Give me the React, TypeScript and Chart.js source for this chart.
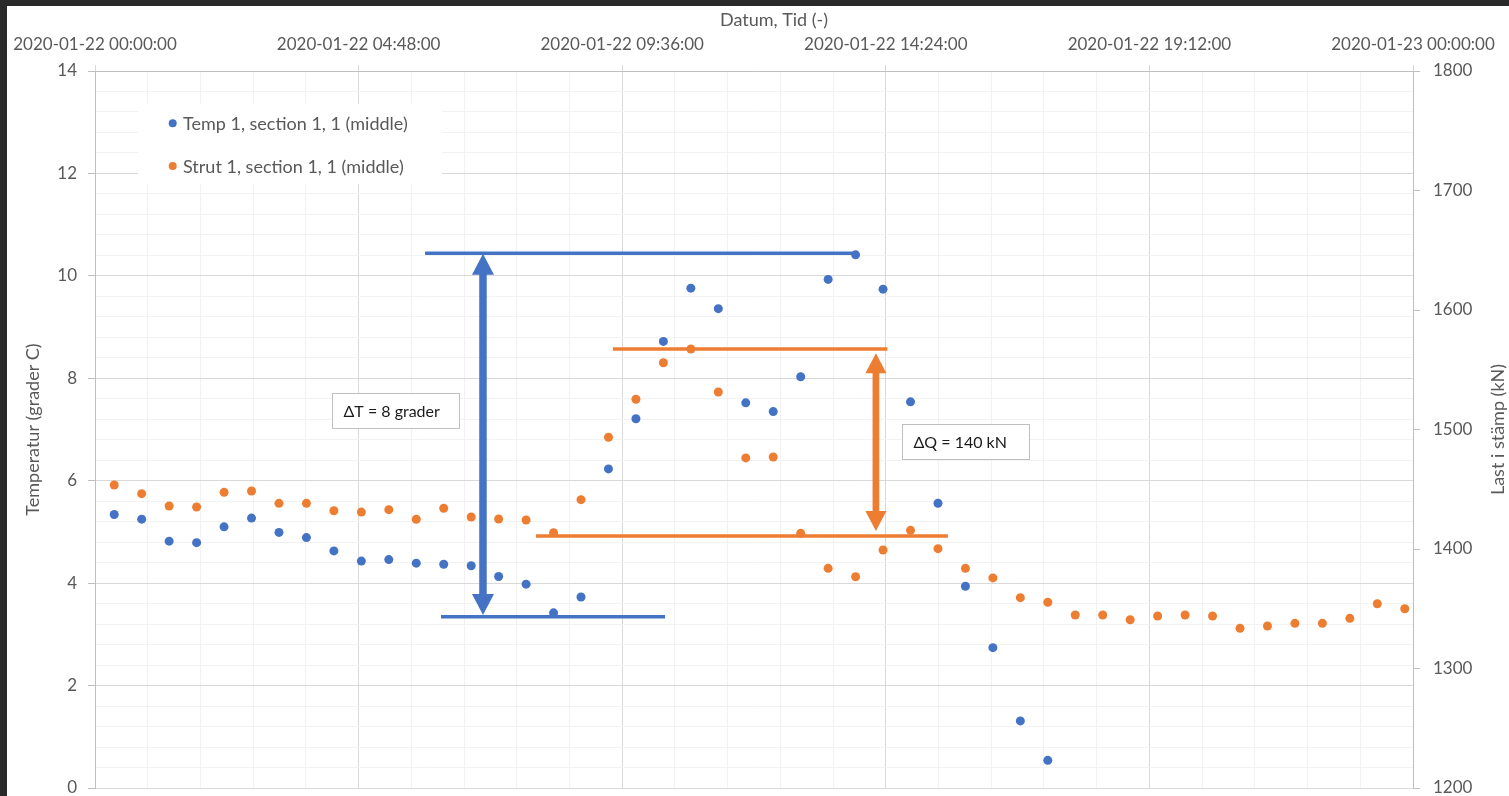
import React, { useEffect, useRef } from "react";
import { Chart, registerables } from "chart.js";

Chart.register(...registerables);

// ---- data ----
const times = [
  "00:21", "00:51", "01:21", "01:51", "02:21", "02:51", "03:21", "03:51",
  "04:21", "04:51", "05:21", "05:51", "06:21", "06:51", "07:21", "07:51",
  "08:21", "08:51", "09:21", "09:51", "10:21", "10:51", "11:21", "11:51",
  "12:21", "12:51", "13:21", "13:51", "14:21", "14:51", "15:21", "15:51",
  "16:21", "16:51", "17:21", "17:51", "18:21", "18:51", "19:21", "19:51",
  "20:21", "20:51", "21:21", "21:51", "22:21", "22:51", "23:21", "23:51",
];

const tempValues = [
  5.34, 5.25, 4.82, 4.79, 5.1, 5.27, 4.99, 4.89, 4.63, 4.43, 4.46, 4.39,
  4.37, 4.34, 4.13, 3.98, 3.42, 3.73, 6.23, 7.21, 8.72, 9.76, 9.36, 7.52,
  7.35, 8.03, 9.93, 10.41, 9.74, 7.54, 5.56, 3.94, 2.74, 1.31, 0.54,
];

const loadValues = [
  1453.6, 1446.3, 1436.0, 1435.1, 1447.4, 1448.5, 1438.2, 1438.2, 1432.0, 1430.9,
  1432.9, 1424.9, 1434.1, 1426.8, 1425.1, 1424.3, 1413.6, 1441.3, 1493.5, 1525.3,
  1555.9, 1567.4, 1531.4, 1476.2, 1477.0, 1413.1, 1383.8, 1376.8, 1399.2, 1415.6,
  1400.3, 1383.8, 1375.8, 1359.3, 1355.4, 1344.8, 1344.8, 1340.8, 1343.9, 1344.8,
  1343.9, 1333.6, 1335.6, 1337.8, 1337.8, 1342.0, 1354.2, 1350.0,
];

const tempLabel = "Temp 1, section 1, 1 (middle)";
const loadLabel = "Strut 1, section 1, 1 (middle)";
const xTitle = "Datum, Tid (-)";
const yTitle = "Temperatur (grader C)";
const y2Title = "Last i stämp (kN)";
const dateStart = "2020-01-";
const firstDay = 22;

// annotations in data units (hours / °C / kN)
const blueLines = [
  { x1: 6.01, x2: 13.88, v: 10.44 },
  { x1: 6.3, x2: 10.38, v: 3.345 },
];
const blueArrow = { x: 7.065, v1: 10.43, v2: 3.38 };
const orangeLines = [
  { x1: 9.43, x2: 14.43, v: 1567.4 },
  { x1: 8.03, x2: 15.53, v: 1410.9 },
];
const orangeArrow = { x: 14.22, v1: 1563.8, v2: 1415.1 };
const notes = [
  { text: "ΔT = 8 grader", x: 4.315, v: 7.707 },
  { text: "ΔQ = 140 kN", x: 14.7, v: 7.1 },
];

// ---- styling ----
const BLUE = "#4472C4";
const ORANGE = "#ED7D31";
const FONT = "Lato";
const TEXT = "#595959";
const MAJOR = "#d9d9d9";
const MINOR = "#f2f2f2";
const AXIS = "#bfbfbf";

const toHours = (t: string) => {
  const [h, m] = t.split(":").map(Number);
  return h + m / 60;
};

const isMult = (v: number, s: number) => Math.abs(v / s - Math.round(v / s)) < 1e-6;

const pad2 = (n: number) => String(n).padStart(2, "0");

const fmtTime = (v: number) => {
  const totalMin = Math.round(v * 60);
  const day = firstDay + Math.floor(totalMin / 1440);
  const min = totalMin % 1440;
  return `${dateStart}${day} ${pad2(Math.floor(min / 60))}:${pad2(min % 60)}:00`;
};

function drawArrow(ctx: CanvasRenderingContext2D, x: number, yTop: number, yBot: number, color: string, shaftW: number, headW: number, headL: number) {
  ctx.fillStyle = color;
  ctx.fillRect(x - shaftW / 2, yTop + headL - 1, shaftW, yBot - yTop - 2 * headL + 2);
  ctx.beginPath();
  ctx.moveTo(x, yTop);
  ctx.lineTo(x - headW / 2, yTop + headL);
  ctx.lineTo(x + headW / 2, yTop + headL);
  ctx.closePath();
  ctx.fill();
  ctx.beginPath();
  ctx.moveTo(x, yBot);
  ctx.lineTo(x - headW / 2, yBot - headL);
  ctx.lineTo(x + headW / 2, yBot - headL);
  ctx.closePath();
  ctx.fill();
}

const overlay = {
  id: "overlay",
  beforeDatasetsDraw(chart: any) {
    const { ctx, chartArea } = chart;
    // legend box
    const lx = chartArea.left + 43;
    const ly = chartArea.top + 33;
    ctx.save();
    ctx.fillStyle = "#ffffff";
    ctx.fillRect(lx, ly, 304, 80);
    const items = [
      { label: chart.data.datasets[0].label, color: BLUE, dy: 19.3 },
      { label: chart.data.datasets[1].label, color: ORANGE, dy: 62 },
    ];
    ctx.font = `18px ${FONT}`;
    ctx.textBaseline = "middle";
    ctx.textAlign = "left";
    for (const it of items) {
      ctx.fillStyle = it.color;
      ctx.beginPath();
      ctx.arc(lx + 34.7, ly + it.dy, 4, 0, Math.PI * 2);
      ctx.fill();
      ctx.fillStyle = TEXT;
      ctx.fillText(it.label, lx + 45, ly + it.dy + 1);
    }
    ctx.restore();
  },
  afterDatasetsDraw(chart: any) {
    const { ctx } = chart;
    const { x, y, y2 } = chart.scales;
    ctx.save();
    ctx.lineCap = "butt";
    ctx.lineWidth = 3.5;
    ctx.strokeStyle = BLUE;
    for (const l of blueLines) {
      const py = y.getPixelForValue(l.v);
      ctx.beginPath();
      ctx.moveTo(x.getPixelForValue(l.x1), py);
      ctx.lineTo(x.getPixelForValue(l.x2), py);
      ctx.stroke();
    }
    ctx.strokeStyle = ORANGE;
    for (const l of orangeLines) {
      const py = y2.getPixelForValue(l.v);
      ctx.beginPath();
      ctx.moveTo(x.getPixelForValue(l.x1), py);
      ctx.lineTo(x.getPixelForValue(l.x2), py);
      ctx.stroke();
    }
    drawArrow(ctx, x.getPixelForValue(blueArrow.x), y.getPixelForValue(blueArrow.v1), y.getPixelForValue(blueArrow.v2), BLUE, 7.5, 22, 21);
    drawArrow(ctx, x.getPixelForValue(orangeArrow.x), y2.getPixelForValue(orangeArrow.v1), y2.getPixelForValue(orangeArrow.v2), ORANGE, 6.7, 21, 20);

    // text boxes
    ctx.font = `16px ${FONT}`;
    ctx.textBaseline = "middle";
    ctx.textAlign = "left";
    for (const n of notes) {
      const bx = Math.round(x.getPixelForValue(n.x)) + 0.5;
      const by = Math.round(y.getPixelForValue(n.v)) + 0.5;
      ctx.fillStyle = "#ffffff";
      ctx.fillRect(bx, by, 127, 35);
      ctx.strokeStyle = AXIS;
      ctx.lineWidth = 1;
      ctx.strokeRect(bx, by, 127, 35);
      ctx.fillStyle = "#1a1a1a";
      ctx.fillText(n.text, bx + 11, by + 18);
    }
    ctx.restore();
  },
  afterDraw(chart: any) {
    const { ctx, chartArea } = chart;
    ctx.save();
    ctx.font = `18px ${FONT}`;
    ctx.fillStyle = TEXT;
    ctx.textAlign = "center";
    ctx.textBaseline = "middle";
    ctx.fillText(xTitle, chartArea.left + 679, 14);
    ctx.translate(26, (chartArea.top + chartArea.bottom) / 2);
    ctx.rotate(-Math.PI / 2);
    ctx.fillText(yTitle, 0, 0);
    ctx.restore();
    ctx.save();
    ctx.font = `18px ${FONT}`;
    ctx.fillStyle = TEXT;
    ctx.textAlign = "center";
    ctx.textBaseline = "middle";
    ctx.translate(chart.width - 11, (chartArea.top + chartArea.bottom) / 2);
    ctx.rotate(-Math.PI / 2);
    ctx.fillText(y2Title, 0, 0);
    ctx.restore();
  },
};

export default function App() {
  const ref = useRef<HTMLCanvasElement>(null);

  useEffect(() => {
    document.body.style.margin = "0";
    const canvas = ref.current;
    if (!canvas) return;
    const hrs = times.map(toHours);
    const tempData = tempValues.map((v, i) => ({ x: hrs[i], y: v }));
    const loadData = loadValues.map((v, i) => ({ x: hrs[i], y: v }));
    const tickFont = { family: FONT, size: 17, lineHeight: 1.2 };

    const chart = new Chart(canvas, {
      type: "scatter",
      data: {
        datasets: [
          {
            label: tempLabel,
            data: tempData,
            yAxisID: "y",
            backgroundColor: BLUE,
            borderColor: BLUE,
            pointRadius: 4.5,
            borderWidth: 0,
          },
          {
            label: loadLabel,
            data: loadData,
            yAxisID: "y2",
            backgroundColor: ORANGE,
            borderColor: ORANGE,
            pointRadius: 4.5,
            borderWidth: 0,
          },
        ],
      },
      options: {
        responsive: false,
        animation: false,
        devicePixelRatio: 1,
        layout: { padding: { left: 0, right: 0, top: 0, bottom: 8 } },
        plugins: {
          legend: { display: false },
          tooltip: { enabled: false },
          title: { display: false },
        },
        scales: {
          x: {
            type: "linear",
            position: "top",
            min: 0,
            max: 24,
            afterBuildTicks: (scale: any) => {
              const t = [];
              for (let k = 0; k <= 25; k++) t.push({ value: Math.round(k * 0.96 * 100) / 100 });
              scale.ticks = t;
            },
            afterFit: (scale: any) => {
              scale.height = 65;
              scale.paddingLeft = 0;
              scale.paddingRight = 0;
            },
            grid: {
              color: (c: any) => (isMult(c.tick.value, 4.8) ? MAJOR : MINOR),
              tickColor: (c: any) => (isMult(c.tick.value, 4.8) ? MAJOR : "rgba(0,0,0,0)"),
              tickLength: 6,
              lineWidth: 1,
            },
            border: { color: AXIS, width: 1 },
            ticks: {
              autoSkip: false,
              maxRotation: 0,
              minRotation: 0,
              padding: 10,
              color: TEXT,
              font: tickFont,
              callback: (v: any) => (isMult(Number(v), 4.8) ? fmtTime(Number(v)) : ""),
            },
          },
          y: {
            type: "linear",
            position: "left",
            min: 0,
            max: 14,
            afterBuildTicks: (scale: any) => {
              const t = [];
              for (let k = 0; k <= 35; k++) t.push({ value: Math.round(k * 0.4 * 10) / 10 });
              scale.ticks = t;
            },
            afterFit: (scale: any) => {
              scale.width = 88;
              scale.paddingTop = 0;
              scale.paddingBottom = 0;
            },
            grid: {
              color: (c: any) => (isMult(c.tick.value, 2) ? MAJOR : MINOR),
              tickColor: (c: any) => (isMult(c.tick.value, 2) ? AXIS : "rgba(0,0,0,0)"),
              tickLength: 7,
            },
            border: { color: AXIS, width: 1 },
            ticks: {
              autoSkip: false,
              padding: 11,
              color: TEXT,
              font: tickFont,
              callback: (v: any) => (isMult(Number(v), 2) ? String(Math.round(Number(v))) : ""),
            },
          },
          y2: {
            type: "linear",
            position: "right",
            min: 1200,
            max: 1800,
            afterBuildTicks: (scale: any) => {
              const t = [];
              for (let k = 0; k <= 6; k++) t.push({ value: 1200 + k * 100 });
              scale.ticks = t;
            },
            afterFit: (scale: any) => {
              scale.width = 96;
              scale.paddingTop = 0;
              scale.paddingBottom = 0;
            },
            grid: {
              drawOnChartArea: false,
              tickColor: AXIS,
              tickLength: 7,
            },
            border: { color: AXIS, width: 1 },
            ticks: {
              autoSkip: false,
              padding: 13,
              color: TEXT,
              font: tickFont,
              callback: (v: any) => String(Math.round(Number(v))),
            },
          },
        },
      },
      plugins: [overlay],
    } as any);

    return () => chart.destroy();
  }, []);

  return (
    <div
      style={{
        position: "fixed",
        left: 0,
        top: 0,
        width: 1509,
        height: 796,
        background: "#2a2a2a",
        overflow: "hidden",
      }}
    >
      <canvas
        ref={ref}
        width={1502}
        height={790}
        style={{ position: "absolute", left: 7, top: 6, width: 1502, height: 790, background: "#ffffff" }}
      />
    </div>
  );
}
